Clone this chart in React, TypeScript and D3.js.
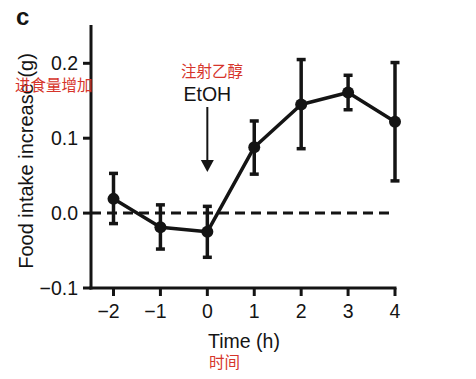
import React from "react";
import * as d3 from "d3";

const times = [-2, -1, 0, 1, 2, 3, 4];
const means = [0.019, -0.019, -0.025, 0.088, 0.145, 0.161, 0.122];
const upper = [0.053, 0.011, 0.009, 0.123, 0.205, 0.184, 0.201];
const lower = [-0.014, -0.048, -0.059, 0.052, 0.086, 0.138, 0.043];
const xTicks = [-2, -1, 0, 1, 2, 3, 4];
const yTicks = [-0.1, 0.0, 0.1, 0.2];

const FONT = "'Liberation Sans', Arial, Helvetica, sans-serif";
const CJK = "'Noto Sans CJK SC', sans-serif";
const RED = "#d6352b";
const INK = "#141414";

export default function App() {
  const x = d3.scaleLinear().domain([-2, 4]).range([113.5, 395]);
  const y = d3.scaleLinear().domain([-0.1, 0.2]).range([288, 63.3]);
  const axisLeft = 91;
  const axisTop = 25;
  const axisBottom = 288;
  const data = times.map((t, i) => ({ t, m: means[i], u: upper[i], l: lower[i] }));
  const line = d3
    .line<{ t: number; m: number }>()
    .x((d) => x(d.t))
    .y((d) => y(d.m));
  const fmtX = (v: number) => (v < 0 ? "\u2212" + Math.abs(v) : String(v));
  const fmtY = (v: number) => (v < 0 ? "\u2212" : "") + Math.abs(v).toFixed(1);
  const arrowX = x(0);

  return (
    <svg
      width={476}
      height={379}
      style={{ position: "absolute", left: 0, top: 0, background: "#fff" }}
    >
      <text x={16} y={25} fontFamily={FONT} fontWeight="bold" fontSize={24} fill={INK}>
        c
      </text>

      {/* zero dashed line */}
      <line
        x1={axisLeft}
        x2={x(4)}
        y1={y(0)}
        y2={y(0)}
        stroke={INK}
        strokeWidth={3}
        strokeDasharray="10,6"
      />

      {/* axes */}
      <line x1={axisLeft} x2={axisLeft} y1={axisTop} y2={axisBottom + 1.5} stroke={INK} strokeWidth={3} />
      <line x1={axisLeft - 1.5} x2={x(4) + 1.5} y1={axisBottom} y2={axisBottom} stroke={INK} strokeWidth={3} />

      {yTicks.map((v) => (
        <g key={"y" + v}>
          <line x1={axisLeft - 8} x2={axisLeft} y1={y(v)} y2={y(v)} stroke={INK} strokeWidth={3} />
          <text
            x={axisLeft - 13}
            y={y(v)}
            dy="0.36em"
            textAnchor="end"
            fontFamily={FONT}
            fontSize={19.5}
            fill={INK}
          >
            {fmtY(v)}
          </text>
        </g>
      ))}

      {xTicks.map((v) => (
        <g key={"x" + v}>
          <line x1={x(v)} x2={x(v)} y1={axisBottom} y2={axisBottom + 8} stroke={INK} strokeWidth={3} />
          <text
            x={x(v) + (v < 0 ? -5 : 0)}
            y={318}
            textAnchor="middle"
            fontFamily={FONT}
            fontSize={19.5}
            fill={INK}
          >
            {fmtX(v)}
          </text>
        </g>
      ))}

      <text x={244} y={348} textAnchor="middle" fontFamily={FONT} fontSize={19.5} fill={INK}>
        Time (h)
      </text>
      <text x={209} y={368} fontFamily={CJK} fontSize={15.5} fill={RED}>
        时间
      </text>

      <text
        transform="translate(33,161) rotate(-90)"
        textAnchor="middle"
        fontFamily={FONT}
        fontSize={20}
        fill={INK}
      >
        Food intake increase (g)
      </text>
      <text x={15} y={91} fontFamily={CJK} fontSize={15.5} fill={RED}>
        进食量增加
      </text>

      {/* annotation */}
      <text x={212} y={77} textAnchor="middle" fontFamily={CJK} fontSize={15.5} fill={RED}>
        注射乙醇
      </text>
      <text x={arrowX} y={101} textAnchor="middle" fontFamily={FONT} fontSize={19.5} fill={INK}>
        EtOH
      </text>
      <line x1={arrowX} x2={arrowX} y1={107} y2={162} stroke={INK} strokeWidth={2} />
      <path
        d={`M${arrowX - 6.5},${160} L${arrowX + 6.5},${160} L${arrowX},${172} Z`}
        fill={INK}
      />

      {/* error bars */}
      {data.map((d) => (
        <g key={"e" + d.t} stroke={INK} strokeWidth={3.5}>
          <line x1={x(d.t)} x2={x(d.t)} y1={y(d.u)} y2={y(d.l)} />
          <line x1={x(d.t) - 4.5} x2={x(d.t) + 4.5} y1={y(d.u)} y2={y(d.u)} />
          <line x1={x(d.t) - 4.5} x2={x(d.t) + 4.5} y1={y(d.l)} y2={y(d.l)} />
        </g>
      ))}

      <path d={line(data) || ""} fill="none" stroke={INK} strokeWidth={3.5} strokeLinejoin="round" />

      {data.map((d) => (
        <circle key={"c" + d.t} cx={x(d.t)} cy={y(d.m)} r={6} fill={INK} />
      ))}
    </svg>
  );
}
